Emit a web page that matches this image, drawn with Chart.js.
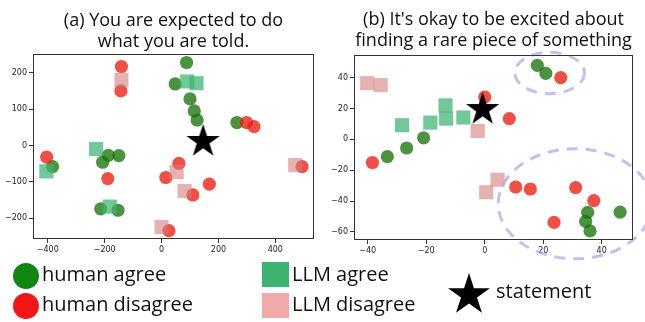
<!DOCTYPE html>
<html>
<head>
<meta charset="utf-8">
<script src="https://cdn.jsdelivr.net/npm/chart.js@4.4.1/dist/chart.umd.min.js"></script>
<style>
  body { margin: 0; background: #fff; width: 645px; height: 322px; overflow: hidden; position: relative; font-family: "Open Sans", sans-serif; }
  canvas { position: absolute; top: 0; }
  #leftChart { left: 0; }
  #rightChart { left: 320px; }
  .key { position: absolute; font-size: 20px; line-height: 24px; color: #111; white-space: nowrap; }
  .mark { position: absolute; }
</style>
</head>
<body>
<canvas id="leftChart" width="320" height="265"></canvas>
<canvas id="rightChart" width="325" height="265"></canvas>

<div class="mark" style="left:13px;top:263px;width:26px;height:26px;border-radius:50%;background:#118611"></div>
<div class="key" style="left:42px;top:262px">human agree</div>
<div class="mark" style="left:13px;top:293px;width:26px;height:26px;border-radius:50%;background:#f41616"></div>
<div class="key" style="left:42px;top:292px">human disagree</div>

<div class="mark" style="left:262px;top:262px;width:27px;height:25px;background:#3cb371"></div>
<div class="key" style="left:292px;top:262px">LLM agree</div>
<div class="mark" style="left:262px;top:293px;width:27px;height:25px;background:#f0aaaa"></div>
<div class="key" style="left:292px;top:292px">LLM disagree</div>

<svg class="mark" style="left:447px;top:273px" width="44" height="44" id="keyStar"></svg>
<div class="key" style="left:496px;top:279px">statement</div>

<script>
// panel (a) values
const leftHumanAgree = [[88, 228], [48, 169], [100, 128], [115, 95], [125, 70], [265, 63],
    [-187, -27], [-207, -46], [-150, -28], [-383, -58], [-214, -174], [-153, -178]];
const leftHumanDisagree = [[-141, 217], [-143, 150], [299, 63], [325, 52], [-404, -32], [-189, -91],
    [61, -49], [15, -88], [110, -136], [168, -106], [26, -234], [494, -58]];
const leftLlmAgree = [[90, 176], [123, 171], [-230, -10], [-405, -71], [-182, -168]];
const leftLlmDisagree = [[-141, 180], [53, -73], [81, -125], [0, -224], [470, -54]];
const leftStatement = [[146, 11]];
const leftXTicks = [-400, -200, 0, 200, 400];
const leftYTicks = [-200, -100, 0, 100, 200];

// panel (b) values
const rightHumanAgree = [[18, 48], [20.9, 42.9], [-33.3, -11.2], [-26.7, -5.6], [-20.9, 1],
    [35.2, -47.4], [34.5, -53.2], [36, -59.4], [46.3, -47.2]];
const rightHumanDisagree = [[26, 40.1], [0, 27.5], [8.4, 13.5], [-38.4, -15], [10.6, -30.9],
    [15.6, -32.2], [31.1, -31.3], [37.3, -39.7], [23.7, -53.9]];
const rightLlmAgree = [[-28.3, 9.2], [-18.6, 10.9], [-13.4, 22.1], [-13.2, 13.5], [-7.3, 14.2]];
const rightLlmDisagree = [[-40.2, 36.5], [-35.6, 35.2], [-2.4, 5.4], [4.4, -26.2], [0.5, -34.3]];
const rightStatement = [[-0.7, 19.4]];
const rightXTicks = [-40, -20, 0, 20, 40];
const rightYTicks = [-60, -40, -20, 0, 20, 40];
// dashed clusters in (b): centre and radii in data units
const rightClusters = [[22.2, 43.1, 11.9, 13.4], [30.9, -41.8, 26.3, 35.7]];

const leftTitle = ['(a) You are expected to do', 'what you are told.'];
const rightTitle = ["(b) It's okay to be excited about", 'finding a rare piece of something'];

function starPoints(cx, cy, r) {
    const pts = [];
    for (let i = 0; i < 10; i++) {
        const rr = i % 2 === 0 ? r : r * 0.382;
        const a = -Math.PI / 2 + i * Math.PI / 5;
        pts.push([cx + rr * Math.cos(a), cy + rr * Math.sin(a)]);
    }
    return pts;
}

function makeStar(r) {
    const c = document.createElement('canvas');
    c.width = c.height = Math.ceil(r * 2);
    const ctx = c.getContext('2d');
    ctx.beginPath();
    starPoints(r, r, r).forEach(([x, y], i) => i ? ctx.lineTo(x, y) : ctx.moveTo(x, y));
    ctx.closePath();
    ctx.fillStyle = '#000';
    ctx.fill();
    return c;
}

document.getElementById('keyStar').innerHTML =
    '<polygon fill="#000" points="' + starPoints(22, 22, 22).map(p => p.join(',')).join(' ') + '"/>';

const toXY = arr => arr.map(([x, y]) => ({ x, y }));
const fmt = v => String(v).replace('-', '\u2212');

// box round the axes, like matplotlib spines
const framePlugin = {
    id: 'frame',
    afterDraw(chart) {
        const a = chart.chartArea;
        const ctx = chart.ctx;
        ctx.save();
        ctx.strokeStyle = '#333';
        ctx.lineWidth = 1;
        ctx.strokeRect(Math.round(a.left) + 0.5, Math.round(a.top) + 0.5,
            Math.round(a.right - a.left) - 1, Math.round(a.bottom - a.top) - 1);
        ctx.restore();
    }
};

const clusterPlugin = {
    id: 'clusters',
    afterDatasetsDraw(chart, args, opts) {
        if (!opts.items) return;
        const xs = chart.scales.x, ys = chart.scales.y;
        const ctx = chart.ctx;
        ctx.save();
        ctx.strokeStyle = 'rgba(170,165,235,0.7)';
        ctx.lineWidth = 3;
        ctx.setLineDash([11, 8]);
        opts.items.forEach(([cx, cy, rx, ry]) => {
            const px = xs.getPixelForValue(cx), py = ys.getPixelForValue(cy);
            const prx = Math.abs(xs.getPixelForValue(cx + rx) - px);
            const pry = Math.abs(ys.getPixelForValue(cy + ry) - py);
            ctx.beginPath();
            ctx.ellipse(px, py, prx, pry, 0, 0, Math.PI * 2);
            ctx.stroke();
        });
        ctx.restore();
    }
};

function makeChart(id, cfg) {
    const axis = (min, max, ticks) => ({
        type: 'linear', min, max,
        border: { display: false },
        grid: { display: true, drawOnChartArea: false, drawTicks: true, tickLength: 4, color: '#333' },
        ticks: { font: { family: 'DejaVu Sans', size: 8 }, color: '#222', padding: 2, autoSkip: false, maxRotation: 0, callback: v => fmt(v) },
        afterBuildTicks: s => { s.ticks = ticks.map(v => ({ value: v })); }
    });
    const xAxis = axis(cfg.xRange[0], cfg.xRange[1], cfg.xTicks);
    xAxis.afterFit = s => { s.height = cfg.xHeight; };
    const yAxis = axis(cfg.yRange[0], cfg.yRange[1], cfg.yTicks);
    yAxis.afterFit = s => { s.width = cfg.yWidth; };

    new Chart(document.getElementById(id), {
        type: 'scatter',
        data: {
            datasets: [
                { data: toXY(cfg.star), pointStyle: makeStar(17.5), pointRadius: 17, order: 0 },
                { data: toXY(cfg.llmDisagree), pointStyle: 'rect', pointRadius: 10, borderWidth: 0,
                  backgroundColor: 'rgba(212,125,125,0.6)', order: 1 },
                { data: toXY(cfg.llmAgree), pointStyle: 'rect', pointRadius: 10, borderWidth: 0,
                  backgroundColor: 'rgba(60,179,113,0.72)', order: 2 },
                { data: toXY(cfg.humanDisagree), pointStyle: 'circle', pointRadius: 6.6, borderWidth: 0,
                  backgroundColor: 'rgba(235,30,15,0.78)', order: 3 },
                { data: toXY(cfg.humanAgree), pointStyle: 'circle', pointRadius: 6.6, borderWidth: 0,
                  backgroundColor: 'rgba(25,115,10,0.78)', order: 4 }
            ]
        },
        options: {
            responsive: false,
            animation: false,
            devicePixelRatio: 1,
            // the big star marker would otherwise push the plot box inwards
            layout: { autoPadding: false, padding: { left: 0, right: cfg.padRight, top: 0, bottom: 0 } },
            scales: { x: xAxis, y: yAxis },
            plugins: {
                legend: { display: false },
                tooltip: { enabled: false },
                title: {
                    display: true,
                    text: cfg.title,
                    fullSize: false,
                    color: '#111',
                    font: { family: 'Open Sans', size: 18, weight: 'normal', lineHeight: 1.17 },
                    padding: { top: cfg.titleTop, bottom: cfg.titleBottom }
                },
                clusters: { items: cfg.clusters }
            }
        },
        plugins: [framePlugin, clusterPlugin]
    });
}

makeChart('leftChart', {
    title: leftTitle, humanAgree: leftHumanAgree, humanDisagree: leftHumanDisagree,
    llmAgree: leftLlmAgree, llmDisagree: leftLlmDisagree, star: leftStatement,
    xTicks: leftXTicks, yTicks: leftYTicks, xRange: [-452, 536], yRange: [-257, 251],
    yWidth: 33, xHeight: 26, padRight: 6, titleTop: 10, titleBottom: 2, clusters: null
});

makeChart('rightChart', {
    title: rightTitle, humanAgree: rightHumanAgree, humanDisagree: rightHumanDisagree,
    llmAgree: rightLlmAgree, llmDisagree: rightLlmDisagree, star: rightStatement,
    xTicks: rightXTicks, yTicks: rightYTicks, xRange: [-44.7, 50.7], yRange: [-65.3, 54.7],
    yWidth: 34, xHeight: 25, padRight: 12, titleTop: 9, titleBottom: 4, clusters: rightClusters
});
</script>
</body>
</html>
